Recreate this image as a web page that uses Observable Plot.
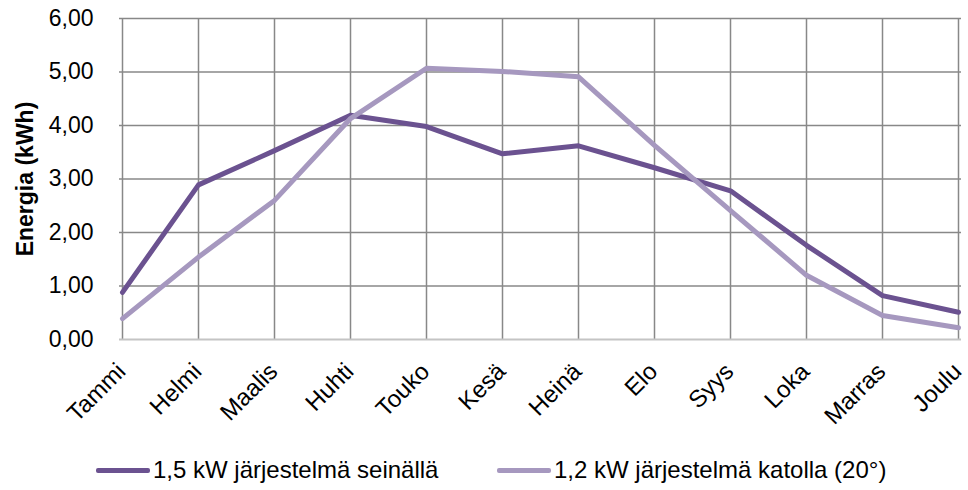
<!DOCTYPE html>
<html>
<head>
<meta charset="utf-8">
<script src="https://cdn.jsdelivr.net/npm/d3@7"></script>
<script src="https://cdn.jsdelivr.net/npm/@observablehq/plot@0.6"></script>
<style>
  body { margin: 0; background: #fff; font-family: "Liberation Sans", Arial, sans-serif; }
  #chart { width: 968px; height: 490px; position: relative; }
  #legend { position: absolute; top: 450px; left: 96px; height: 40px; display: flex; align-items: center; font-size: 24px; color: #000; }
  .item { display: flex; align-items: center; }
  .sw { width: 54px; height: 5px; margin-right: 3px; border-radius: 2px; }
</style>
</head>
<body>
<div id="chart"><div id="legend"></div></div>
<script>
const months = ["Tammi","Helmi","Maalis","Huhti","Touko","Kesä","Heinä","Elo","Syys","Loka","Marras","Joulu"];
const seinalla = [0.88, 2.89, 3.53, 4.19, 3.98, 3.47, 3.62, 3.21, 2.78, 1.76, 0.82, 0.51];
const katolla  = [0.39, 1.54, 2.60, 4.13, 5.07, 5.01, 4.91, 3.63, 2.41, 1.20, 0.45, 0.22];
const seriesNames = ["1,5 kW järjestelmä seinällä", "1,2 kW järjestelmä katolla (20°)"];
const seriesColors = ["#6b5290", "#a698bf"];
const yTicks = [0, 1, 2, 3, 4, 5, 6];

const rows = [];
[seinalla, katolla].forEach((vals, s) => {
  vals.forEach((v, i) => rows.push({month: months[i], value: v, series: seriesNames[s]}));
});

const fmt = d => d.toFixed(2).replace(".", ",");

const plot = Plot.plot({
  width: 968,
  height: 450,
  marginLeft: 119,
  marginRight: 7,
  marginTop: 18,
  marginBottom: 111,
  style: {fontFamily: "Liberation Sans, Arial, sans-serif", color: "#000", background: "#fff", overflow: "visible"},
  x: {type: "point", domain: months, padding: 0},
  y: {domain: [0, 6]},
  color: {domain: seriesNames, range: seriesColors},
  marks: [
    Plot.ruleX(months, {x: d => d, stroke: "#888", strokeWidth: 1.5, strokeOpacity: 1}),
    Plot.ruleY(yTicks.filter(d => d > 0), {y: d => d, stroke: "#888", strokeWidth: 1.5, strokeOpacity: 1}),
    Plot.ruleY([0], {stroke: "#c4c4c4", strokeWidth: 2}),
    Plot.lineY(rows.filter(d => d.series === seriesNames[0]), {x: "month", y: "value", stroke: "series", strokeWidth: 5, strokeLinejoin: "round"}),
    Plot.lineY(rows.filter(d => d.series === seriesNames[1]), {x: "month", y: "value", stroke: "series", strokeWidth: 5, strokeLinejoin: "round"}),
    Plot.axisY({ticks: yTicks, tickFormat: fmt, tickSize: 0, tickPadding: 26, fontSize: 23, label: null}),
    Plot.axisX({tickSize: 0, tickRotate: -45, tickPadding: 28, dx: -1, fontSize: 24, label: null}),
    Plot.text(["Energia (kWh)"], {frameAnchor: "left", textAnchor: "middle", dx: -94, rotate: -90, fontWeight: "bold", fontSize: 23, text: d => d})
  ]
});
document.getElementById("chart").prepend(plot);

const legend = document.getElementById("legend");
seriesNames.forEach((name, i) => {
  const item = document.createElement("div");
  item.className = "item";
  if (i === 0) item.style.width = "401px";
  const sw = document.createElement("div");
  sw.className = "sw";
  sw.style.background = seriesColors[i];
  const t = document.createElement("span");
  t.textContent = name;
  item.appendChild(sw);
  item.appendChild(t);
  legend.appendChild(item);
});
</script>
</body>
</html>
